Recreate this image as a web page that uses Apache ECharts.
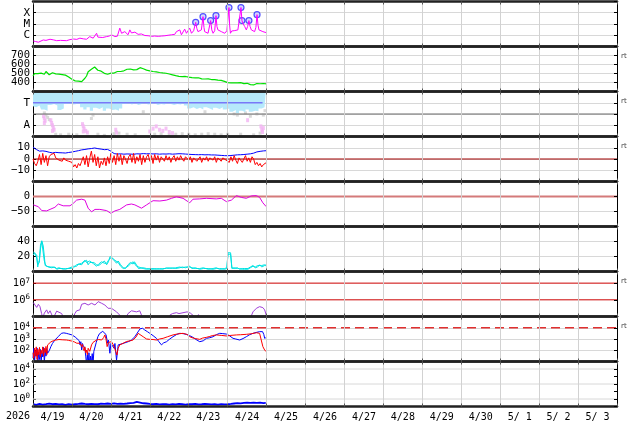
<!DOCTYPE html>
<html><head><meta charset="utf-8">
<script src="https://cdn.jsdelivr.net/npm/echarts@6/dist/echarts.min.js"></script>
<style>html,body{margin:0;padding:0;background:#fff}#c{width:634px;height:424px}</style>
</head><body><div id="c"></div>
<script>
// ---------- DATA (x = hours since 2026-04-19 00:00) ----------
const dayLabels = ['4/19','4/20','4/21','4/22','4/23','4/24','4/25','4/26','4/27','4/28','4/29','4/30','5/ 1','5/ 2','5/ 3'];
const yearLabel = '2026';

const xrayFlux = [[0.2,3.1e-7],[1.5,2.8e-7],[3.3,2.4e-7],[4.5,2.9e-7],[6.3,3.8e-7],[8,3.5e-7],[10.5,4.4e-7],[12.5,3.9e-7],[14.6,3.3e-7],[17,3.5e-7],[20.7,3.3e-7],[22.8,4.1e-7],[25,4.6e-7],[27,4.3e-7],[28.9,5.5e-7],[31,4.8e-7],[33,4.4e-7],[35,7.6e-7],[36,5.2e-7],[37.1,5.5e-7],[38.3,6.5e-7],[39.2,1.5e-6],[40,6.8e-7],[41.2,5.5e-7],[43,6.3e-7],[45.4,7.6e-7],[47,8.5e-7],[48.4,1.1e-6],[49.4,1.3e-6],[50.5,7.6e-7],[52,8.2e-7],[53.5,4.3e-6],[54.6,1.5e-6],[55.5,1.8e-6],[56.6,2.1e-6],[57.5,1.4e-6],[58.6,1.1e-6],[59.7,3.0e-6],[60.7,1.6e-6],[61.7,1.3e-6],[62.8,1.9e-6],[63.8,2.1e-6],[64.8,1.2e-6],[65.8,8.8e-7],[66.8,1.3e-6],[67.9,1.5e-6],[69,9.5e-7],[70,7.6e-7],[71,9e-7],[72,1.1e-6],[73,8e-7],[74,6.7e-7],[75,8.5e-7],[76.1,1.1e-6],[77.2,8e-7],[78.2,6.7e-7],[79.2,8.5e-7],[80.2,1.1e-6],[81.3,9e-7],[82.3,7.6e-7],[83.3,1e-6],[84.3,1.5e-6],[85.3,1.1e-6],[86.3,8.8e-7],[87.4,1.2e-6],[88.4,2.1e-6],[89.5,1.4e-6],[90.5,3.0e-6],[91.5,1.1e-6],[92.5,1.6e-6],[93.5,3.5e-6],[94.6,1.5e-6],[95.6,1.8e-6],[96.6,4.3e-6],[97.7,1.5e-6],[99,2.5e-6],[100.3,1.4e-5],[101,4e-6],[101.7,2.1e-6],[102.8,2.6e-6],[103.8,3.0e-6],[104.8,4.5e-5],[105.4,5e-6],[105.8,2.1e-6],[107,1.8e-6],[107.9,1.5e-6],[109.5,2.0e-5],[110.2,3e-6],[111,1.5e-6],[112,2.5e-6],[112.8,5.5e-5],[113.4,6e-6],[114,3.0e-6],[115,2.6e-6],[116.1,2.1e-6],[117.2,1.8e-6],[118.2,1.5e-6],[119.5,2.5e-6],[120.8,2.9e-4],[121.2,8e-6],[121.7,1.5e-6],[122.5,2.4e-6],[123.3,2.1e-6],[124.4,2.6e-6],[125.4,2.1e-6],[126.3,3.0e-6],[127.3,4e-6],[128.2,2.9e-4],[128.8,2.0e-5],[129.6,1e-5],[130.5,6.0e-6],[131.5,3.0e-6],[132.3,6e-6],[133.1,2.0e-5],[133.8,6e-6],[134.6,3.0e-6],[135.6,2.4e-6],[136.6,2.1e-6],[137.4,5e-6],[138.1,6.8e-5],[138.7,8e-6],[139.3,3.0e-6],[140.5,2.5e-6],[141.7,2.1e-6],[142.8,1.9e-6],[143.8,1.7e-6]];
const flarePeaks = [[100.3,1.4e-5],[104.8,4.5e-5],[109.5,2.0e-5],[112.8,5.5e-5],[120.8,2.9e-4],[128.2,2.9e-4],[128.8,2.0e-5],[133.1,2.0e-5],[138.1,6.8e-5]];

const speedStepH = 1;
const speedKms = [472,500,520,498,488,504,510,492,522,505,486,483,
 508,520,496,514,492,508,488,502,482,478,462,450,
 436,422,418,406,415,400,409,428,447,472,520,538,
 548,560,572,594,536,548,526,520,502,483,492,494,
 504,492,505,515,522,531,522,542,530,541,547,528,
 550,534,541,552,543,560,565,578,553,548,537,530,
 530,520,522,513,519,508,511,510,506,506,503,496,
 494,486,485,478,476,470,469,468,465,460,467,458,
 460,461,455,450,451,445,453,444,441,443,439,434,
 441,433,433,435,431,426,426,428,423,418,413,403,
 399,401,396,389,397,387,395,389,399,390,387,393,
 391,390,376,361,373,382,389,391,386,390,389,383,384];

const sectorBandLower = [[0,2.7],[2,2.6],[4,2.75],[6,2.4],[8,2.3],[10,2.8],[12,2.9],[14,2.75],[16,2.35],[18,2.5],[20,2.9],[22,2.95],[24,2.85],[26,2.9],[28,2.95],[30,2.6],[32,2.4],[34,2.6],[36,2.3],[38,2.55],[40,2.45],[42,2.6],[44,2.3],[46,2.5],[48,2.35],[50,2.4],[52,2.3],[54,2.5],[56,2.9],[58,2.95],[60,2.85],[62,2.95],[64,2.8],[66,2.9],[68,2.95],[70,2.85],[72,2.9],[74,2.95],[76,2.8],[78,2.9],[80,2.85],[82,2.95],[84,2.9],[86,2.8],[88,2.9],[90,2.85],[92,2.95],[94,2.75],[96,2.5],[98,2.6],[100,2.45],[102,2.55],[104,2.4],[106,2.6],[108,2.5],[110,2.35],[112,2.55],[114,2.45],[116,2.6],[118,2.4],[120,2.5],[122,2.2],[124,2.35],[126,2.1],[128,2.3],[130,2.15],[132,2.4],[134,2.2],[136,2.3],[138,2.25],[140,2.5],[142,2.6],[143.5,2.7]];
const sectorTLevel = [[0,3],[141.5,3]];
const sectorGrey = [[7,2.1],[8,1.9],[9,1.7],[10,1.5],[14,0.2],[17,0.15],[22,0.2],[27,0.15],[36,1.6],[37,1.9],[40,0.2],[44,0.1],[50,0.25],[53,0.3],[58,0.2],[63,0.15],[68,2.2],[75,0.2],[79,0.25],[84,0.15],[88,0.2],[92,0.25],[96,0.2],[100,0.15],[104,0.2],[106,2.2],[108,0.25],[112,0.2],[116,0.15],[120,0.2],[124,2.0],[126,1.9],[128,0.2],[131,2.1],[134,1.8],[136,0.15],[138,2.0],[140,0.3],[142,1.9],[143,2.3],[20,3.95],[45,3.95],[70,3.95],[110,3.95],[130,3.95]];
const sectorPink = [[6.5,1.8],[7,1.6],[7.5,1.4],[7,1.2],[11,1.45],[11.5,1.2],[12,1.0],[12.5,0.8],[13,0.6],[12,0.5],[30.5,1.1],[31,0.9],[31.5,0.7],[32.5,0.5],[33.5,0.35],[31,0.45],[51,0.6],[51.5,0.35],[72,0.45],[74,0.7],[76,0.9],[78,0.6],[80,0.5],[82,0.7],[84,0.4],[86,0.3],[132.3,1.45],[140.5,0.9],[141,0.6],[141.5,0.4],[142,0.75]];

const btStepH = 2;
const btNT = [10.5,8.5,7,7.2,6.8,6,5.4,5.9,5.6,5.5,5.3,5.8,6.2,6.8,7.4,8.1,8.5,9,9.3,9.8,9.2,8.8,8.3,8.5,7,4.8,4.4,4.6,4.3,4.5,4.4,4.2,4.6,4.5,4.8,4.6,4.7,4.5,4.6,4.3,4.5,4.4,4.6,4.3,4.5,4.7,4.6,4.4,4.2,4,3.9,3.8,3.9,3.7,3.8,3.6,3.6,3.4,3.2,3,2.9,3.1,3.4,3.7,3.8,4,4.3,4.6,5.2,6.3,6.8,7.2,7.4];
const bzStepH = 1;
const bzNT = [0,-4,-6,-2,4,-5,5,-3,3,-6,2,4,
 3,5,1,2,-1,0,-2,1,-1,0,-2,-1,
 -3,-7,-5,-8,-4,-6,-2,2,-5,3,-7,1,
 7,-3,4,-6,2,-8,-2,-5,1,-6,2,-4,
 5,-3,3,-5,5,-2,4,-5,3,0,-4,2,
 4,-3,5,-4,2,-2,4,-5,3,-3,2,4,
 -2,3,-4,4,-1,3,-3,2,1,-2,3,-1,
 2,-3,1,3,-2,2,-1,3,0,-2,2,1,
 -1,2,-3,1,2,-2,0,2,-3,1,-1,2,
 -2,1,0,-1,2,-3,1,0,-2,1,2,-1,
 0,-3,2,-2,3,-1,-4,1,2,-3,0,3,
 -2,1,-3,2,0,-5,-3,-6,-4,-7,-5,-6,-3];

const dstNT = [[0.2,-28],[3.3,-34],[5.4,-47],[8.4,-48],[10.5,-43],[13.5,-36],[15.6,-25],[18.6,-31],[22.8,-31],[24.8,-23],[26.9,-12],[30,-9],[32,-12],[34,-39],[36.1,-51],[38.2,-43],[41.2,-43],[45.4,-47],[48,-56],[50.5,-48],[53.5,-43],[57.7,-28],[60.7,-25],[62.8,-28],[66.9,-39],[70,-28],[74,-14],[78.2,-15],[82.3,-12],[85.4,-6],[88.4,-1],[92.5,-6],[96.6,-21],[98.6,-9],[102.8,-8],[106.9,-6],[113,-8],[116.1,-6],[119.2,-17],[122.3,-12],[125.4,3],[128.4,-3],[131.5,-6],[134.6,2],[137.7,3],[139.7,-3],[141.7,-21],[143.8,-34]];

const densityA = [[0.2,26],[1,24],[2.3,22],[2.9,6],[3.4,12],[3.9,15],[4.6,30],[5.4,40],[6.3,38],[6.9,15],[7.5,10],[8.4,7],[9.5,8],[10.5,6],[11.5,7],[12.5,6],[13.5,5],[14.6,4],[16,5],[18.6,3],[20,4],[22.8,4],[24,6],[25,5],[26.9,9],[28,8],[30,11],[31,9],[32,15],[33,12],[34,11],[35,14],[36.1,15],[37.5,10],[39.2,7],[40.5,10],[42.3,13],[44,11],[45.4,11],[46.5,15],[47.5,17],[48.4,19],[49.5,18],[50.5,15],[51.5,13],[52.5,12],[54,7],[55.6,4],[57,5],[58.6,7],[60,10],[61.7,13],[62.5,11],[63.8,7],[65,5],[67.9,4],[70,3],[72,4],[74,3],[76,4],[78,3],[80,4],[82.3,4],[84,5],[86,4],[88,5],[90.5,6],[92,5],[94,6],[96.6,6],[98,5],[100,4],[102.8,4],[105,5],[108,3],[111,4],[113,5],[115,3],[118.2,4],[119.5,5],[120.2,23],[121,24],[121.8,23],[122.6,4],[124,5],[126,4],[127.4,4],[129,3],[130.5,3],[132.5,3],[134,5],[135.6,7],[137,6],[138.5,8],[139.7,7],[141,8],[142.8,9],[143.6,7]];
const densityB = [[0.2,22],[1,25],[2.3,18],[2.9,9],[3.4,8],[3.9,12],[4.6,35],[5.4,41],[6.3,34],[6.9,22],[7.5,8],[8.4,9],[9.5,6],[10.5,8],[11.5,5],[12.5,7],[13.5,6],[14.6,3],[16,4],[18.6,4],[20,3],[22.8,5],[24,4],[25,7],[26.9,7],[28,10],[30,9],[31,12],[32,12],[33,15],[34,9],[35,12],[36.1,13],[37.5,12],[39.2,9],[40.5,8],[42.3,11],[44,14],[45.4,9],[46.5,13],[47.5,20],[48.4,21],[49.5,16],[50.5,17],[51.5,11],[52.5,14],[54,9],[55.6,5],[57,4],[58.6,9],[60,12],[61.7,10],[62.5,13],[63.8,9],[65,4],[67.9,5],[70,4],[72,3],[74,4],[76,3],[78,4],[80,3],[82.3,5],[84,4],[86,5],[88,4],[90.5,5],[92,6],[94,5],[96.6,7],[98,4],[100,5],[102.8,3],[105,4],[108,4],[111,3],[113,4],[115,4],[118.2,3],[119.5,4],[120.2,25],[121,25],[121.8,25],[122.6,5],[124,4],[126,5],[127.4,3],[129,4],[130.5,4],[132.5,4],[134,6],[135.6,8],[137,5],[138.5,6],[139.7,9],[141,6],[142.8,8],[143.6,9]];

const electronFlux = [[0.2,6.8e5],[1.2,6.2e5],[2.3,3.5e5],[3.3,5.4e5],[4.3,3.9e5],[5.3,1.5e5],[6,8e4],[7,1.6e5],[8.4,2.5e5],[9.4,1.5e5],[10.5,2.2e5],[11.5,1.9e5],[12.5,8e4],[14.6,2.1e5],[15.6,2.5e5],[17.7,1.5e5],[18.6,9e4],[20,5e4],[24,5e4],[25.8,1.5e5],[26.9,2.2e5],[28.9,2.5e5],[30,5.4e5],[32,6.2e5],[34,4.9e5],[36.1,6.2e5],[38.2,4.9e5],[40.2,7.8e5],[42.3,6.2e5],[44.3,4.9e5],[46.3,3.1e5],[48.4,3.1e5],[51.5,1.9e5],[53.5,1.2e5],[54.5,8e4],[57,8e4],[58.6,1.5e5],[60.7,2.2e5],[63.8,1.9e5],[65.8,2.2e5],[66.9,1.2e5],[67.5,8e4],[84,8e4],[84.3,1.2e5],[86,1.5e5],[87,1.3e5],[88.4,1.7e5],[90,1.5e5],[95,1.9e5],[97,1.6e5],[99,1.1e5],[100,8e4],[102,1.3e5],[103,8e4],[134,8e4],[135.6,1.9e5],[137.7,3.1e5],[139.7,3.9e5],[141.7,3.4e5],[142.8,2.5e5],[143.8,1.2e5]];

const fluxBlue = [[0,20],[0.5,150],[1,12],[1.5,90],[2,30],[2.5,160],[3,8],[3.5,70],[4,15],[4.5,120],[5,9],[5.5,60],[6,25],[6.5,180],[7,8],[7.5,100],[8,30],[8.5,140],[9,54],[10,90],[11,210],[12,400],[13.5,810],[15.5,1600],[17.5,3200],[19,3500],[20.5,3200],[22,2800],[24,2300],[26,1500],[27,1150],[28.5,700],[29,300],[29.5,575],[30,105],[30.5,400],[31,250],[32,150],[32.5,30],[33,6],[33.5,40],[34,5],[34.5,60],[35,4],[35.5,30],[36,6],[36.5,50],[37,5],[37.5,80],[38,105],[39,500],[40,1600],[41,3000],[42,4500],[43,4800],[44,4500],[45,2500],[46,420],[46.5,800],[47.4,54],[48,400],[48.4,300],[49,600],[50,150],[50.5,400],[51.5,13],[52.5,300],[53.5,420],[55,380],[56.5,450],[57.7,470],[59,600],[60.7,810],[62.8,1600],[64,3000],[64.8,4500],[66,8000],[66.9,11000],[67.5,9000],[68.9,6300],[70.5,4500],[72,3200],[74,2000],[76.1,1150],[77.5,600],[79.2,300],[80.5,450],[82.3,575],[84.3,1000],[86.3,1600],[88.5,2500],[90.5,3200],[92.5,3000],[94.6,2600],[96.5,2000],[98.6,1400],[100.5,900],[102.8,575],[104,800],[105,700],[106.9,1150],[109,1300],[111,1600],[113,2400],[115.1,3200],[117,3000],[119.2,2750],[121,2000],[123.3,1150],[125,1000],[127.4,810],[129.5,1100],[131.5,1600],[133.5,2400],[135.6,3200],[137.5,3800],[139.7,4500],[140.7,5500],[141.5,4500],[142.3,2500],[142.8,1150],[143.5,1300]];
const fluxRed = [[0,60],[0.5,20],[1,150],[1.5,30],[2,200],[2.5,15],[3,120],[3.5,40],[4,180],[4.5,25],[5,100],[5.5,50],[6,200],[6.5,30],[7,150],[7.5,60],[8,220],[8.5,40],[9,300],[10,420],[11,550],[12.5,700],[14,800],[16,900],[18,850],[20.7,810],[22,750],[23.8,660],[25.5,550],[27,420],[28.9,420],[29.5,300],[30,210],[30.5,350],[31,150],[31.5,90],[32,200],[32.5,60],[33,105],[33.5,40],[34,150],[34.5,200],[35,80],[36.1,300],[37,500],[38,700],[39.2,810],[40.5,900],[42.3,810],[43.5,1300],[44.3,2300],[45,1000],[45.7,210],[46.5,500],[47.4,575],[48.4,575],[49.5,300],[50,200],[51,80],[51.7,38],[52.5,150],[53.5,300],[55.6,420],[57.7,600],[60,700],[61.7,810],[63.5,1500],[64.8,3200],[66,2500],[67.9,1600],[70,1000],[72,930],[74,900],[76.1,810],[78,1000],[80.2,1150],[83,1600],[86.3,2300],[89,2800],[92.5,3200],[95,2500],[96.6,1600],[98,1300],[100,1100],[102.8,930],[104.5,1200],[106.9,1400],[109,1700],[110.5,2000],[113,2300],[116,2100],[119.2,1860],[122,2100],[125.4,2300],[128,2400],[131.5,2600],[134.5,2900],[137.7,3600],[139.7,3200],[140.7,810],[141.7,210],[142.8,105],[143.8,74]];

const lowFlux = [[0,0.2],[1,0.16],[2,0.17],[3,0.23],[4,0.22],[5,0.17],[6,0.18],[7,0.24],[8,0.21],[9,0.17],[10,0.25],[11,0.19],[12,0.2],[13,0.25],[14,0.23],[15,0.18],[16,0.19],[17,0.24],[18,0.2],[19,0.16],[20,0.17],[21,0.23],[22,0.21],[23,0.17],[24,0.18],[26,0.2],[28,0.22],[30,0.25],[32,0.22],[34,0.2],[36,0.23],[38,0.21],[40,0.2],[42,0.24],[44,0.22],[46,0.25],[48,0.23],[50,0.26],[52,0.22],[54,0.24],[56,0.23],[58,0.25],[60,0.28],[62,0.3],[63,0.35],[64,0.4],[65,0.38],[66,0.33],[67,0.3],[68,0.27],[70,0.25],[72,0.22],[74,0.2],[76,0.22],[78,0.19],[80,0.21],[82,0.2],[84,0.18],[86,0.21],[88,0.19],[90,0.22],[92,0.2],[94,0.18],[96,0.21],[98,0.2],[100,0.22],[102,0.19],[104,0.2],[106,0.22],[108,0.21],[110,0.19],[112,0.2],[114,0.18],[116,0.21],[118,0.19],[120,0.2],[122,0.22],[124,0.25],[126,0.28],[128,0.26],[130,0.3],[132,0.32],[134,0.3],[136,0.33],[138,0.3],[140,0.32],[142,0.28],[143.5,0.3]];

// reference / threshold levels
const imfZero = [0], dstZero = [0], electronAlerts = [1e6, 1e7], fluxAlert = [1e4], sectorDivider = [2];

// tick labels
const xrayClassByExp = {'-6':'C','-5':'M','-4':'X'};
const speedTicks = [400,500,600,700];
const sectorTickNames = {'3':'T','1':'A'};
const imfTicks = [10,0,-10];
const dstTicks = [0,-50];
const densTicks = [20,40];
const electronExps = [6,7];
const fluxExps = [2,3,4];
const lowFluxExps = [0,2,4];
const rtPanels = [1,2,3,6,7];

// ---------- LAYOUT ----------
const TOP0 = 1.5, PH = 45, LEFT = 33, RIGHT = 17, DAY = 24, XMAX = DAY * dayLabels.length;
const FONT = 'DejaVu Sans Mono';
const GRID_C = '#d2d2d2';
const chart = echarts.init(document.getElementById('c'), null, {renderer:'canvas'});

const minus = v => String(v).replace('-', '\u2212');
const isDecade = v => Math.abs(Math.log10(v) - Math.round(Math.log10(v))) < 1e-6;
const exp10 = v => Math.round(Math.log10(v));
const supRich = { b:{fontFamily:FONT,fontSize:10.5,color:'#000',lineHeight:13}, s:{fontFamily:FONT,fontSize:7.5,color:'#000',lineHeight:13,verticalAlign:'top',padding:[0,0,6,0]} };
const supFmt = exps => v => (isDecade(v) && exps.includes(exp10(v))) ? '{b|10}{s|' + exp10(v) + '}' : '';

const panels = [
  {type:'log', min:1e-7, max:1e-3, split:true, fmt: v => isDecade(v) ? (xrayClassByExp[String(exp10(v))] || '') : '', big:true},
  {type:'value', min:300, max:800, interval:100, split:true, fmt: v => speedTicks.includes(v) ? String(v) : ''},
  {type:'value', min:0, max:4, interval:1, split:true, fmt: v => sectorTickNames[String(v)] || '', big:true},
  {type:'value', min:-20, max:20, interval:10, split:true, fmt: v => imfTicks.includes(v) ? minus(v) : ''},
  {type:'value', min:-100, max:50, interval:50, split:true, fmt: v => dstTicks.includes(v) ? minus(v) : ''},
  {type:'value', min:0, max:60, interval:20, split:true, fmt: v => densTicks.includes(v) ? String(v) : ''},
  {type:'log', min:1e5, max:5e7, split:false, fmt: supFmt(electronExps), rich:true},
  {type:'log', min:1e1, max:1e5, split:true, fmt: supFmt(fluxExps), rich:true},
  {type:'log', min:1e-1, max:1e5, split:false, fmt: supFmt(lowFluxExps), rich:true}
];

const grid = [], xAxis = [], yAxis = [];
const dayAxis = (i, pos) => ({gridIndex:i, type:'value', min:0, max:XMAX, interval:DAY, position:pos, z:10,
    axisLine:{show:true, onZero:false, lineStyle:{color:'#222', width:2.5}},
    axisTick:{show:true, inside:true, length:3, lineStyle:{color:'#555'}},
    axisLabel:{show:false}, splitLine:{show:false}});
panels.forEach((p, i) => {
  grid.push({left:LEFT, right:RIGHT, top:TOP0 + PH*i, height:PH, containLabel:false, outerBoundsMode:'none'});
  xAxis.push(dayAxis(i, 'bottom'));
  xAxis.push(dayAxis(i, 'top'));
  const yb = {gridIndex:i, type:p.type, min:p.min, max:p.max};
  if (p.interval) yb.interval = p.interval;
  if (p.type === 'log') yb.logBase = 10;
  yAxis.push(Object.assign({}, yb, {position:'left', z:0,
    axisLine:{show:true, onZero:false, lineStyle:{color:'#000', width:1}},
    axisTick:{show:true, inside:true, length:3, lineStyle:{color:'#000'}},
    axisLabel:{show:true, margin:3, formatter:p.fmt, color:'#000', fontFamily:FONT, fontSize:p.big?11:10.5, rich:p.rich?supRich:undefined,
      showMinLabel:true, showMaxLabel:true, hideOverlap:false},
    splitLine:{show:p.split, lineStyle:{color:'#d8d8d8', width:1}}}));
  yAxis.push(Object.assign({}, yb, {position:'right', z:10,
    axisLine:{show:true, onZero:false, lineStyle:{color:'#000', width:1}},
    axisTick:{show:true, inside:true, length:3, lineStyle:{color:'#000'}},
    axisLabel:{show:false}, splitLine:{show:false}}));
});
// date label axis on bottom panel (labels centred at noon of each day)
xAxis.push({gridIndex:8, type:'value', min:0, max:XMAX, interval:DAY/2, position:'bottom',
  axisLine:{show:false}, axisTick:{show:false}, splitLine:{show:false},
  axisLabel:{show:true, margin:6, color:'#000', fontFamily:FONT, fontSize:10, hideOverlap:false,
    formatter: v => (v % DAY === DAY/2) ? dayLabels[(v - DAY/2) / DAY] : ''}});

const ax = i => ({xAxisIndex:2*i, yAxisIndex:2*i});
const line = (i, data, color, width, extra) => Object.assign({type:'line', data, showSymbol:false, symbol:'none', clip:true, animation:false,
  lineStyle:{color, width}, itemStyle:{color}}, ax(i), extra || {});
// horizontal reference line drawn as a two-point series across the full time span
const hRef = (i, level, color, width, type) => line(i, [[0, level], [XMAX, level]], color, width, {lineStyle:{color, width, type: type || 'solid'}, silent:true});
// vertical day grid lines for each panel
const dayBounds = dayLabels.slice(1).map((_, k) => (k + 1) * DAY);
const vGrid = i => line(i, [], GRID_C, 0, {silent:true, z:1, markLine:{silent:true, symbol:['none','none'], label:{show:false}, animation:false,
  lineStyle:{color:GRID_C, width:1, type:'solid'}, data: dayBounds.map(h => ({xAxis:h}))}});

const series = [];
panels.forEach((p, i) => series.push(vGrid(i)));
series.push(
  line(0, xrayFlux, '#ff00ff', 1),
  Object.assign({type:'scatter', data:flarePeaks, symbol:'circle', symbolSize:6, animation:false,
    itemStyle:{color:'#c8ccff', borderColor:'#2a2aff', borderWidth:1.2}}, ax(0)),
  line(1, speedKms.map((v,k) => [k*speedStepH, v]), '#00e000', 1.2),
  line(2, sectorBandLower, '#b6e9fb', 0, {step:'middle', areaStyle:{origin:'end', color:'#b6e9fb', opacity:1}}),
  ...sectorDivider.map(v => hRef(2, v, '#6a6a6a', 1)),
  Object.assign({type:'scatter', data:sectorGrey, symbol:'rect', symbolSize:[3,3], animation:false, itemStyle:{color:'#cfcfcf'}}, ax(2)),
  Object.assign({type:'scatter', data:sectorPink, symbol:'rect', symbolSize:[3,4], animation:false, itemStyle:{color:'#f3b3f3'}}, ax(2)),
  line(2, sectorTLevel, '#7878f8', 1.5),
  ...imfZero.map(v => hRef(3, v, '#a00000', 1)),
  line(3, btNT.map((v,k) => [k*btStepH, v]), '#0000ff', 1),
  line(3, bzNT.map((v,k) => [k*bzStepH, v]), '#ff0000', 1),
  ...dstZero.map(v => hRef(4, v, '#d47a7a', 2)),
  line(4, dstNT, '#e000e0', 1),
  line(5, densityA, '#00e8e8', 1),
  line(5, densityB, '#00e0e0', 1),
  ...electronAlerts.map(v => hRef(6, v, '#cc0000', 1)),
  line(6, electronFlux, '#a040d8', 1),
  line(7, fluxBlue, '#0000ff', 1),
  line(7, fluxRed, '#ff0000', 1),
  ...fluxAlert.map(v => hRef(7, v, '#e03030', 1.5, [9,5])),
  ...lowFluxExps.map(e => hRef(8, Math.pow(10, e), '#d8d8d8', 1)),
  line(8, lowFlux, '#0000ff', 1.8)
);

const graphic = [{type:'text', left:6, top:411, style:{text:yearLabel, font:'10px ' + FONT, fill:'#000'}}];
rtPanels.forEach(i => graphic.push({type:'text', left:621, top:TOP0 + PH*i + 6, style:{text:'rt', font:'7px DejaVu Sans', fill:'#444'}}));

chart.setOption({animation:false, backgroundColor:'#fff', grid, xAxis, yAxis, series, graphic});
</script></body></html>
